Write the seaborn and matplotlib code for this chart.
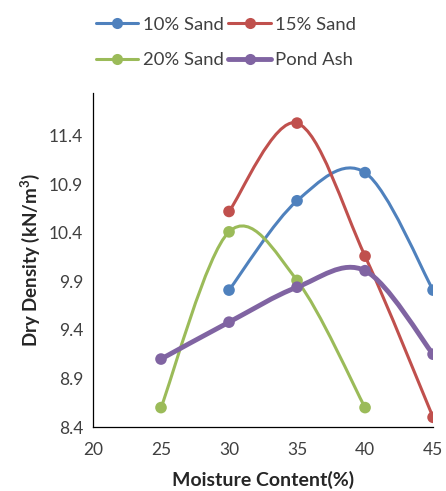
import numpy as np
import pandas as pd
import matplotlib
matplotlib.use("Agg")
import matplotlib.pyplot as plt
import seaborn as sns
from matplotlib.path import Path
from matplotlib.patches import PathPatch
from matplotlib.lines import Line2D

# -----------------------------
# DATA
# -----------------------------
moisture_10 = [30, 35, 40, 45]
density_10 = [9.81, 10.73, 11.02, 9.81]

moisture_15 = [30, 35, 40, 45]
density_15 = [10.62, 11.53, 10.16, 8.50]

moisture_20 = [25, 30, 35, 40]
density_20 = [8.60, 10.41, 9.91, 8.60]

moisture_pa = [25, 30, 35, 40, 45]
density_pa = [9.10, 9.48, 9.84, 10.01, 9.15]

labels = ["10% Sand", "15% Sand", "20% Sand", "Pond Ash"]
colors = ["#4F81BD", "#C0504D", "#9BBB59", "#8064A2"]
widths = [2.2, 2.2, 2.2, 3.5]

x_ticks = [20, 25, 30, 35, 40, 45]
y_ticks = [8.4, 8.9, 9.4, 9.9, 10.4, 10.9, 11.4]

series = [
    (moisture_10, density_10),
    (moisture_15, density_15),
    (moisture_20, density_20),
    (moisture_pa, density_pa),
]

frames = []
for lab, (xs, ys) in zip(labels, series):
    frames.append(pd.DataFrame({"moisture": xs, "density": ys, "mix": lab}))
df = pd.concat(frames, ignore_index=True)

# -----------------------------
# STYLE
# -----------------------------
sns.set_style("white")
plt.rcParams["font.family"] = ["Lato", "DejaVu Sans"]

fig = plt.figure(figsize=(4.46, 4.91), dpi=100)
ax = fig.add_axes([0.2085, 0.1303, 0.7625, 0.6803])


def smooth_path(xs, ys):
    # excel style smoothed line (catmull-rom as cubic bezier)
    pts = np.column_stack([xs, ys]).astype(float)
    n = len(pts)
    verts = [pts[0]]
    codes = [Path.MOVETO]
    for i in range(n - 1):
        p0 = pts[i - 1] if i > 0 else pts[i]
        p1 = pts[i]
        p2 = pts[i + 1]
        p3 = pts[i + 2] if i + 2 < n else pts[i + 1]
        c1 = p1 + (p2 - p0) / 6
        c2 = p2 - (p3 - p1) / 6
        verts += [c1, c2, p2]
        codes += [Path.CURVE4] * 3
    return Path(verts, codes)


for lab, col, lw in zip(labels, colors, widths):
    sub = df[df["mix"] == lab]
    patch = PathPatch(
        smooth_path(sub["moisture"].values, sub["density"].values),
        facecolor="none",
        edgecolor=col,
        lw=lw,
        transform=ax.transData,
        capstyle="round",
    )
    ax.add_patch(patch)
    sns.scatterplot(
        data=sub,
        x="moisture",
        y="density",
        color=col,
        s=70,
        edgecolor="none",
        ax=ax,
        legend=False,
        zorder=3,
    )

ax.set_xlim(20, 45)
ax.set_ylim(8.4, 11.84)
ax.set_xticks(x_ticks)
ax.set_yticks(y_ticks)
ax.set_yticklabels([f"{v:.1f}" for v in y_ticks])

ax.tick_params(axis="both", length=0, labelsize=12.5, colors="#404040", pad=11)
ax.tick_params(axis="y", pad=7)

for side in ["top", "right"]:
    ax.spines[side].set_visible(False)
for side in ["left", "bottom"]:
    ax.spines[side].set_color("black")
    ax.spines[side].set_linewidth(0.9)

ax.set_xlabel("Moisture Content(%)", fontsize=14, fontweight="bold", labelpad=9)
ax.set_ylabel("Dry Density (kN/m$^\\mathregular{3}$)", fontsize=13.5, fontweight="bold", labelpad=5)

# legend filled row-wise like the original (matplotlib fills by column)
order = [0, 2, 1, 3]
handles = [
    Line2D([0], [0], color=colors[i], lw=widths[i], marker="o", markersize=8, markeredgecolor="none")
    for i in order
]
fig.legend(
    handles,
    [labels[i] for i in order],
    loc="upper center",
    bbox_to_anchor=(0.507, 1.0),
    ncol=2,
    frameon=False,
    fontsize=13.3,
    handlelength=2.3,
    handletextpad=0.25,
    columnspacing=0.25,
    labelspacing=1.05,
    labelcolor="#404040",
)

fig.savefig("out.png", dpi=100)
